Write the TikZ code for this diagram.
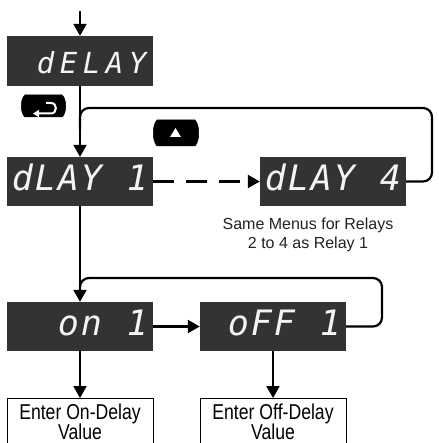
\documentclass[tikz,border=0pt]{standalone}
\usepackage{fontspec}
\setmainfont{Liberation Sans}
\newfontfamily\segfont{DejaVu Sans Mono}
\newfontfamily\narrowfont{Liberation Sans}[FakeStretch=0.82]
\usetikzlibrary{arrows.meta}
\definecolor{dispgray}{HTML}{333333}
\definecolor{segwhite}{HTML}{F4F4F4}
\definecolor{notegray}{HTML}{222222}
\newcommand\segc[1]{\makebox[23pt][c]{#1}}
\tikzset{
  disp/.style={fill=dispgray, draw=none, minimum width=146pt, minimum height=49pt,
    inner sep=0pt, text=segwhite, text depth=0pt,
    font=\segfont\itshape\fontsize{35}{35}\selectfont},
  valbox/.style={draw=black, line width=1pt, minimum width=146pt, inner xsep=0pt,
    inner ysep=4pt, anchor=north, align=center, text height=37pt, text depth=12pt,
    font=\narrowfont\fontsize{21.5}{20.5}\selectfont},
  conn/.style={line width=2.2pt, black},
  arr/.style={conn, -{Triangle[width=13pt,length=12pt]}},
  btn/.style={fill=black, draw=black, line width=0.5pt}
}
\begin{document}
\begin{tikzpicture}[x=1pt,y=-1pt]
\useasboundingbox (0,0) rectangle (438,443);
\clip (0,0) rectangle (438,443);

% display nodes
\node[disp, minimum height=50pt, text height=26pt, font=\segfont\itshape\fontsize{29}{29}\selectfont] (delay) at (80,61)
  {\segc{}\segc{d}\segc{E}\segc{L}\segc{A}\segc{Y}};
\node[disp, text height=19pt] (d1) at (80,181.5)
  {\segc{d}\segc{L}\segc{A}\segc{Y}\segc{}\segc{1}};
\node[disp, text height=19pt] (d4) at (333,181.5)
  {\segc{d}\segc{L}\segc{A}\segc{Y}\segc{}\segc{4}};
\node[disp, text height=17pt] (on1) at (80,326.5)
  {\segc{}\segc{}\segc{o}\segc{n}\segc{}\segc{1}};
\node[disp, text height=17pt] (off1) at (273,326.5)
  {\segc{}\segc{o}\segc{F}\segc{F}\segc{}\segc{1}};

% value boxes
\node[valbox] (onval) at (80,398) {Enter On-Delay\\Value};
\node[valbox] (offval) at (273,398) {Enter Off-Delay\\Value};

% note
\node[align=center, text=notegray, font=\fontsize{16}{18.5}\selectfont] (note) at (308,235)
  {Same Menus for Relays\\2 to 4 as Relay 1};

% buttons
\path[btn] (25,95) -- (62,95) .. controls (67,99) and (67,113) .. (62,117)
  -- (25,117) .. controls (20,113) and (20,99) .. (25,95) -- cycle;
\draw[white, line width=2pt, -{Triangle[width=7pt,length=6pt]}]
  (46,103) -- (51,103) .. controls (57.5,103) and (57.5,113.5) .. (51,113.5) -- (33,113.5);
\path[btn] (157,120) -- (195,120) .. controls (200,125) and (200,141) .. (195,146)
  -- (157,146) .. controls (152,141) and (152,125) .. (157,120) -- cycle;
\fill[white] (175.5,128) -- (181,137) -- (170,137) -- cycle;

% connectors
\coordinate (start) at (80,11);
\draw[arr] (start) -- (delay.north);
\draw[arr] (delay.south) -- (d1.north);
\draw[conn, rounded corners=9pt] (d4.east) -| (432,108) -| (80,130);
\draw[arr, dash pattern=on 21pt off 12pt] (d1.east) -- (d4.west);
\draw[arr] (d1.south) -- (on1.north);
\draw[conn, rounded corners=9pt] (off1.east) -| (382,278) -| (80,295);
\draw[arr] (on1.east) -- (off1.west);
\draw[arr] (on1.south) -- (onval.north);
\draw[arr] (off1.south) -- (offval.north);
\end{tikzpicture}
\end{document}
